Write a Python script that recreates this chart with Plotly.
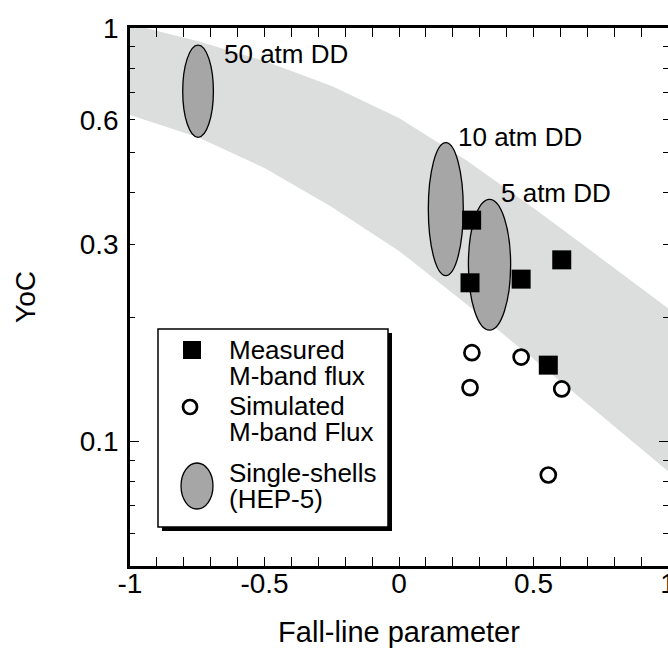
import math
import plotly.graph_objects as go

# ---------------- data ----------------
band_x = [-1.0, -0.75, -0.5, -0.25, 0.0, 0.25, 0.5, 0.75, 1.0]
band_upper = [1.022, 0.930, 0.832, 0.724, 0.606, 0.479, 0.367, 0.278, 0.210]
band_lower = [0.616, 0.545, 0.4585, 0.369, 0.289, 0.215, 0.1583, 0.1159, 0.0848]

measured_x = [0.270, 0.264, 0.454, 0.605, 0.555]
measured_y = [0.343, 0.242, 0.247, 0.275, 0.153]
simulated_x = [0.271, 0.264, 0.454, 0.605, 0.555]
simulated_y = [0.164, 0.135, 0.160, 0.134, 0.083]

shell_labels = ["50 atm DD", "10 atm DD", "5 atm DD"]
shell_x_lo = [-0.804, 0.109, 0.258]
shell_x_hi = [-0.690, 0.239, 0.415]
shell_y_lo = [0.544, 0.252, 0.186]
shell_y_hi = [0.909, 0.528, 0.385]

x_tick_vals = [-1, -0.5, 0, 0.5, 1]
x_tick_text = ["-1", "-0.5", "0", "0.5", "1"]
y_tick_vals = [0.1, 0.3, 0.6, 1]
y_tick_text = ["0.1", "0.3", "0.6", "1"]
y_minor_vals = [0.05, 0.06, 0.07, 0.08, 0.09, 0.2, 0.4, 0.5, 0.7, 0.8, 0.9]

legend_labels = [["Measured", "M-band flux"], ["Simulated", "M-band Flux"],
                 ["Single-shells", "(HEP-5)"]]

# ---------------- layout constants ----------------
W, H = 668, 662
L, R, T, B = 130, 0, 28, 96
PW, PH = W - L - R, H - T - B
FONT = "Liberation Sans, Arial, Helvetica, sans-serif"
BAND_COLOR = "#dcdddd"
SHELL_COLOR = "#a6a6a6"
YRANGE = [math.log10(0.05), 0]


def px(xp):
    return (xp - L) / PW


def py(yp):
    return (T + PH - yp) / PH


fig = go.Figure()

fig.add_trace(go.Scatter(
    x=measured_x, y=measured_y, mode="markers", name="Measured M-band flux",
    marker=dict(symbol="square", size=19, color="black", line=dict(width=0)),
    showlegend=False, cliponaxis=False))
fig.add_trace(go.Scatter(
    x=simulated_x, y=simulated_y, mode="markers", name="Simulated M-band Flux",
    marker=dict(symbol="circle", size=15, color="white",
                line=dict(width=2.7, color="black")),
    showlegend=False, cliponaxis=False))
# dummy traces for the tick-only overlay axes
fig.add_trace(go.Scatter(x=[None], y=[None], yaxis="y2", showlegend=False,
                         hoverinfo="skip"))
fig.add_trace(go.Scatter(x=[None], y=[None], yaxis="y3", showlegend=False,
                         hoverinfo="skip"))

shapes = []
# band as a path in data coordinates
pts = list(zip(band_x, band_upper)) + list(zip(band_x[::-1], band_lower[::-1]))
path = "M " + " L ".join(f"{x},{y}" for x, y in pts) + " Z"
shapes.append(dict(type="path", path=path, xref="x", yref="y", layer="below",
                   fillcolor=BAND_COLOR, line=dict(width=0)))
# single-shell ellipses
for i in range(len(shell_labels)):
    shapes.append(dict(type="circle", xref="x", yref="y", layer="below",
                       x0=shell_x_lo[i], x1=shell_x_hi[i],
                       y0=shell_y_lo[i], y1=shell_y_hi[i],
                       fillcolor=SHELL_COLOR, line=dict(color="black", width=1.3)))

# legend box with shadow
shapes.append(dict(type="rect", xref="paper", yref="paper",
                   x0=px(162), x1=px(392), y0=py(531), y1=py(333),
                   fillcolor="black", line=dict(width=0), layer="above"))
shapes.append(dict(type="rect", xref="paper", yref="paper",
                   x0=px(158), x1=px(388), y0=py(527), y1=py(329),
                   fillcolor="white", line=dict(color="black", width=1.5),
                   layer="above"))
# legend symbols
shapes.append(dict(type="rect", xref="paper", yref="paper",
                   x0=px(183), x1=px(201), y0=py(359), y1=py(341),
                   fillcolor="black", line=dict(width=0), layer="above"))
shapes.append(dict(type="circle", xref="paper", yref="paper",
                   x0=px(183), x1=px(197), y0=py(414), y1=py(400),
                   fillcolor="white", line=dict(color="black", width=2.7),
                   layer="above"))
shapes.append(dict(type="circle", xref="paper", yref="paper",
                   x0=px(181), x1=px(213), y0=py(509), y1=py(463),
                   fillcolor=SHELL_COLOR, line=dict(color="black", width=1.3),
                   layer="above"))

annotations = []
# shell labels (pixel positions of text)
label_pos = [(222, 54), (456, 137), (499, 193)]
for lab, (xp, yp) in zip(shell_labels, label_pos):
    annotations.append(dict(text=lab, xref="paper", yref="paper",
                            x=px(xp), y=py(yp), xanchor="left", yanchor="middle",
                            showarrow=False, font=dict(size=26, color="black")))
legend_rows = [(350, 376), (406, 432), (473, 499)]
for lines, ys in zip(legend_labels, legend_rows):
    for t, yp in zip(lines, ys):
        annotations.append(dict(text=t, xref="paper", yref="paper",
                                x=px(227), y=py(yp), xanchor="left",
                                yanchor="middle", showarrow=False,
                                font=dict(size=26, color="black")))

tick_common = dict(ticks="inside", tickwidth=1, tickcolor="black")

fig.update_layout(
    template="none",
    width=W, height=H,
    margin=dict(l=L, r=R, t=T, b=B, pad=0, autoexpand=False),
    paper_bgcolor="white", plot_bgcolor="white",
    font=dict(family=FONT, color="black", size=26),
    showlegend=False,
    shapes=shapes, annotations=annotations,
    xaxis=dict(
        range=[-1, 1], showgrid=False, zeroline=False, automargin=False,
        showline=True, linecolor="black", linewidth=2.5, mirror="allticks",
        ticklen=9, **tick_common,
        tickvals=x_tick_vals, ticktext=x_tick_text,
        tickfont=dict(size=28), ticklabelstandoff=-9,
        ticklabeloverflow="allow",
        minor=dict(dtick=0.1, tick0=0, ticklen=4, **tick_common),
        title=dict(text="Fall-line parameter", font=dict(size=29), standoff=24),
    ),
    yaxis=dict(
        type="log", range=YRANGE, showgrid=False, zeroline=False,
        automargin=False,
        showline=True, linecolor="black", linewidth=2.5, mirror=False,
        ticklen=5, **tick_common,
        tickvals=y_tick_vals, ticktext=y_tick_text,
        tickfont=dict(size=28), ticklabelstandoff=3,
        ticklabeloverflow="allow",
        minor=dict(tickmode="array", tickvals=y_minor_vals, ticklen=5,
                   **tick_common),
        title=dict(text="YoC", font=dict(size=28), standoff=36),
    ),
    # long 0.1 tick on the left axis
    yaxis2=dict(
        type="log", range=YRANGE, overlaying="y", side="left",
        showgrid=False, zeroline=False, showline=False, automargin=False,
        ticklen=9, **tick_common, tickvals=[0.1], showticklabels=False,
    ),
    # right-hand ticks (frame edge lies just outside the picture)
    yaxis3=dict(
        type="log", range=YRANGE, overlaying="y", side="right",
        showgrid=False, zeroline=False, showline=False, automargin=False,
        ticklen=9, **tick_common, tickvals=[0.1], showticklabels=False,
        minor=dict(tickmode="array", tickvals=y_minor_vals + [0.3, 0.6],
                   ticklen=5, **tick_common),
    ),
)

fig.write_html("out.html")
